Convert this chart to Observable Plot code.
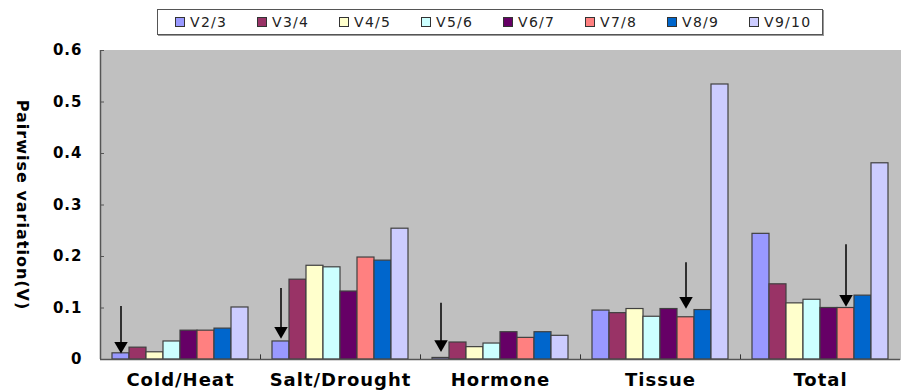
<!DOCTYPE html>
<html><head><meta charset="utf-8">
<script src="https://cdn.jsdelivr.net/npm/d3@7"></script>
<script src="https://cdn.jsdelivr.net/npm/@observablehq/plot@0.6"></script>
<style>
body{margin:0;background:#fff;font-family:"DejaVu Sans",sans-serif;}
#legend{position:relative;height:40px;width:903px;}
#legend .box{position:absolute;left:157px;top:9px;width:666px;height:26px;box-sizing:border-box;border:1px solid #555;box-shadow:1px 1px 0 #999;display:flex;align-items:center;padding-left:17px;}
#legend .item{flex:none;width:82px;display:flex;align-items:center;}
#legend .sw{width:10px;height:10px;box-sizing:border-box;border:1px solid #333;margin-right:5px;}
#legend .lb{font-size:14px;letter-spacing:1.3px;color:#222;}
#chart svg text{letter-spacing:1px;}
</style></head>
<body>
<div id="legend"><div class="box"></div></div>
<div id="chart"></div>
<script>
const groups = ["Cold/Heat", "Salt/Drought", "Hormone", "Tissue", "Total"];
const series = ["V2/3", "V3/4", "V4/5", "V5/6", "V6/7", "V7/8", "V8/9", "V9/10"];
const coldHeat    = [0.012, 0.023, 0.014, 0.035, 0.056, 0.056, 0.060, 0.101];
const saltDrought = [0.035, 0.155, 0.182, 0.179, 0.132, 0.198, 0.192, 0.254];
const hormone     = [0.003, 0.033, 0.024, 0.031, 0.053, 0.042, 0.053, 0.046];
const tissue      = [0.095, 0.090, 0.098, 0.083, 0.098, 0.082, 0.096, 0.534];
const total       = [0.244, 0.146, 0.109, 0.116, 0.100, 0.100, 0.124, 0.381];
const colors = ["#9999FF", "#993366", "#FFFFCC", "#CCFFFF", "#660066", "#FF8080", "#0066CC", "#CCCCFF"];
const yTicks = [0, 0.1, 0.2, 0.3, 0.4, 0.5, 0.6];
const arrowGroups = ["Cold/Heat", "Salt/Drought", "Hormone", "Tissue", "Total"];
const arrowSeries = ["V2/3", "V2/3", "V2/3", "V7/8", "V7/8"];
const arrowFrom   = [0.103, 0.138, 0.109, 0.188, 0.223];
const arrowTo     = [0.014, 0.043, 0.017, 0.101, 0.105];
const yTitle = "Pairwise variation(V)";

const valuesByGroup = [coldHeat, saltDrought, hormone, tissue, total];
const table = groups.flatMap((g, i) => series.map((s, j) => ({group: g, series: s, value: valuesByGroup[i][j]})));
const arrows = arrowGroups.map((g, i) => ({group: g, series: arrowSeries[i], from: arrowFrom[i], to: arrowTo[i]}));

// legend
const box = document.querySelector("#legend .box");
series.forEach((s, i) => {
  const it = document.createElement("div"); it.className = "item";
  const sw = document.createElement("div"); sw.className = "sw"; sw.style.background = colors[i];
  const lb = document.createElement("span"); lb.className = "lb"; lb.textContent = s;
  it.append(sw, lb); box.append(it);
});

const mL = 100, mR = 3, W = 903;
const bandHalf = ((W - mL - mR) / 5 - 24) / 8 / 2 + 12;

const chart = Plot.plot({
  width: W, height: 351,
  marginTop: 10, marginBottom: 32, marginLeft: mL, marginRight: mR,
  style: {fontFamily: "DejaVu Sans", background: "transparent", color: "#000"},
  fx: {domain: groups, padding: 0, label: null},
  x: {domain: series, padding: 0, insetLeft: 12, insetRight: 12, axis: null},
  y: {domain: [0, 0.6], label: null},
  color: {domain: series, range: colors},
  marks: [
    Plot.frame({fill: "#c0c0c0", stroke: "#c0c0c0", strokeWidth: 1}),
    Plot.barY(table, {fx: "group", x: "series", y: "value", fill: "series", stroke: "#404040", strokeWidth: 1.2}),
    Plot.ruleY([0], {stroke: "#555", strokeWidth: 1.5}),
    Plot.ruleX(groups, {fx: d => d, x: () => series[0], dx: -bandHalf, y1: 0, y2: 0.009, stroke: "#333"}),
    Plot.ruleX([groups[0]], {fx: d => d, x: () => series[0], dx: -bandHalf, y1: 0, y2: 0.6, stroke: "#555", strokeWidth: 1.5}),
    Plot.axisY({ticks: yTicks, tickFormat: d => d === 0 ? "0" : d.toFixed(1), tickSize: -4, tickPadding: 22, fontSize: 15, fontWeight: "bold", stroke: "#555"}),
    Plot.axisFx({anchor: "bottom", tickSize: 0, tickPadding: 14, fontSize: 18, fontWeight: "bold", label: null}),
    Plot.ruleX(arrows, {fx: "group", x: "series", y1: "from", y2: "to", stroke: "#000", strokeWidth: 1.5}),
    Plot.dot(arrows, {fx: "group", x: "series", y: "to", symbol: "triangle", rotate: 180, r: 5, fill: "#000", stroke: "none", dy: -6.5}),
    Plot.text([yTitle], {fx: () => groups[0], text: d => d, frameAnchor: "left", textAnchor: "middle", dx: -78, rotate: 90, fontSize: 16, fontWeight: "bold"})
  ]
});
document.getElementById("chart").append(chart);
</script>
</body></html>
